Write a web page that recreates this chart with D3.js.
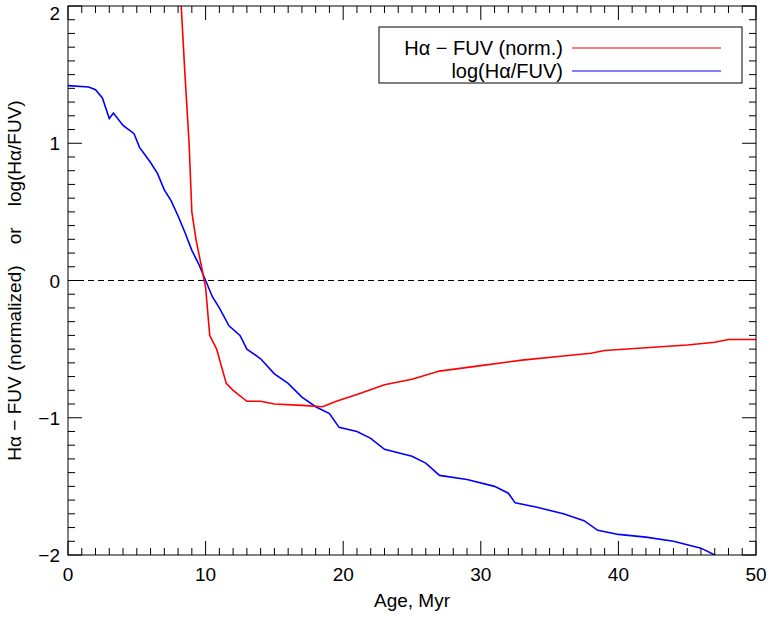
<!DOCTYPE html>
<html><head><meta charset="utf-8">
<script src="https://cdn.jsdelivr.net/npm/d3@7"></script>
<style>body{margin:0;background:#fff}text{font-family:"Liberation Sans",Arial,sans-serif}</style>
</head><body><svg id="c" width="772" height="618"></svg>
<script>
const xTicks=[0,10,20,30,40,50];
const yTicks=[-2,-1,0,1,2];
const redData=[[8.2,2.05],[8.5,1.5],[8.8,1.0],[9.0,0.5],[9.3,0.3],[9.7,0.1],[10,-0.05],[10.3,-0.4],[10.8,-0.5],[11.5,-0.75],[12,-0.8],[13,-0.88],[14,-0.88],[15,-0.9],[17,-0.91],[18.5,-0.92],[19.5,-0.88],[21,-0.83],[23,-0.76],[25,-0.72],[27,-0.66],[30,-0.62],[33,-0.58],[36,-0.55],[38,-0.53],[39,-0.51],[42,-0.49],[45,-0.47],[47,-0.45],[48,-0.43],[50,-0.43]];
const blueData=[[0,1.42],[1.5,1.41],[2,1.39],[2.5,1.33],[3,1.18],[3.3,1.22],[4,1.13],[4.8,1.07],[5.2,0.97],[6,0.86],[6.5,0.78],[7,0.66],[7.5,0.58],[8,0.47],[8.5,0.35],[9,0.22],[9.5,0.12],[10,0.0],[10.5,-0.12],[11,-0.2],[11.7,-0.33],[12.5,-0.4],[13,-0.5],[14,-0.57],[15,-0.68],[16,-0.75],[17,-0.85],[18,-0.92],[19,-0.97],[19.7,-1.07],[21,-1.1],[22,-1.15],[23,-1.23],[25,-1.28],[26,-1.33],[27,-1.42],[29,-1.45],[31,-1.5],[32,-1.55],[32.5,-1.62],[34,-1.65],[36,-1.7],[37.5,-1.75],[38.5,-1.82],[40,-1.85],[42,-1.87],[44,-1.9],[46,-1.95],[47,-2.0],[47.5,-2.03],[48.5,-2.03],[49,-2.1]];
const L=68,R=756,T=6,B=555;
const svg=d3.select("#c");
const x=d3.scaleLinear().domain([0,50]).range([L,R]);
const y=d3.scaleLinear().domain([-2,2]).range([B,T]);
svg.append("clipPath").attr("id","cp").append("rect").attr("x",L).attr("y",T).attr("width",R-L).attr("height",B-T);
const ln=d3.line().x(d=>x(d[0])).y(d=>y(d[1]));
const g=svg.append("g").attr("clip-path","url(#cp)");
g.append("line").attr("x1",L).attr("x2",R).attr("y1",y(0)).attr("y2",y(0)).attr("stroke","#000").attr("stroke-dasharray","6,4");
g.append("path").datum(blueData).attr("d",ln).attr("fill","none").attr("stroke","#0000ff").attr("stroke-width",1.6);
g.append("path").datum(redData).attr("d",ln).attr("fill","none").attr("stroke","#ff0000").attr("stroke-width",1.6);
svg.append("rect").attr("x",L).attr("y",T).attr("width",R-L).attr("height",B-T).attr("fill","none").attr("stroke","#000");
const xs=d3.range(0,51,1), ys=d3.range(-20,21,1).map(v=>v/10);
xs.forEach(v=>{const len=v%10===0?14:7;
 svg.append("line").attr("x1",x(v)).attr("x2",x(v)).attr("y1",B).attr("y2",B-len).attr("stroke","#000");
 svg.append("line").attr("x1",x(v)).attr("x2",x(v)).attr("y1",T).attr("y2",T+len).attr("stroke","#000");});
ys.forEach(v=>{const len=Math.abs(v*10%10)<1e-6?14:7;
 svg.append("line").attr("y1",y(v)).attr("y2",y(v)).attr("x1",L).attr("x2",L+len).attr("stroke","#000");
 svg.append("line").attr("y1",y(v)).attr("y2",y(v)).attr("x1",R).attr("x2",R-len).attr("stroke","#000");});
xTicks.forEach(v=>svg.append("text").attr("x",x(v)).attr("y",B+26).attr("text-anchor","middle").attr("font-size",19).text(v));
yTicks.forEach(v=>svg.append("text").attr("x",L-8).attr("y",Math.max(y(v)+7,20)).attr("text-anchor","end").attr("font-size",19).text(v<0?"\u2212"+(-v):v));
svg.append("text").attr("x",(L+R)/2).attr("y",B+52).attr("text-anchor","middle").attr("font-size",19).text("Age, Myr");
svg.append("text").attr("transform",`translate(21,${(T+B)/2}) rotate(-90)`).attr("text-anchor","middle").attr("font-size",19).attr("xml:space","preserve").text("H\u03b1 \u2212 FUV (normalized)    or    log(H\u03b1/FUV)");
svg.append("rect").attr("x",379).attr("y",27).attr("width",363).attr("height",56).attr("fill","#fff").attr("stroke","#000");
const leg=[["H\u03b1 \u2212 FUV (norm.)","#ff0000",48],["log(H\u03b1/FUV)","#0000ff",71]];
leg.forEach(([t,c,yy])=>{svg.append("text").attr("x",563).attr("y",yy+7).attr("text-anchor","end").attr("font-size",20).text(t);
 svg.append("line").attr("x1",572).attr("x2",721).attr("y1",yy).attr("y2",yy).attr("stroke",c).attr("stroke-width",1.2);});
</script></body></html>
